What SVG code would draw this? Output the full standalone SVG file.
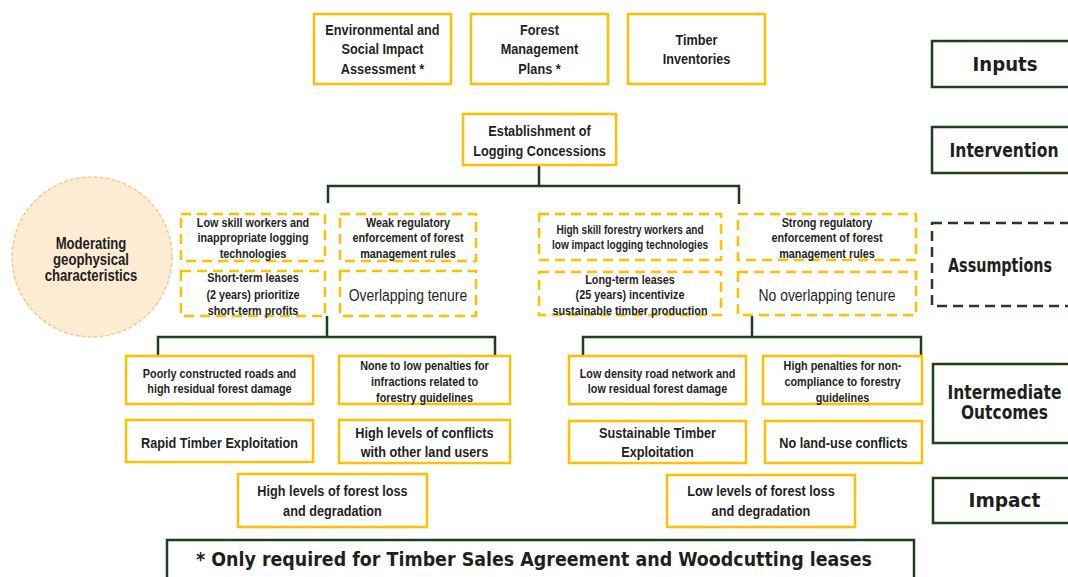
<svg xmlns="http://www.w3.org/2000/svg" width="1068" height="577" viewBox="0 0 1068 577">
<style>
.box{fill:#fff;stroke:#FFC000;stroke-width:2.5}
.dbox{fill:#fff;stroke:#FFC000;stroke-width:2.5;stroke-dasharray:10 6}
.lbl{fill:#fff;stroke:#1E3F1F;stroke-width:2.5}
.dlbl{fill:#fff;stroke:#1E3F1F;stroke-width:2.5;stroke-dasharray:10 6}
.con{fill:none;stroke:#1E3F1F;stroke-width:2.5}
text{fill:#1f1f1f;text-anchor:middle}
.t{font-family:"Liberation Sans",Arial,sans-serif;font-weight:bold;font-size:15.5px}
.s{font-family:"Liberation Sans",Arial,sans-serif;font-weight:bold;font-size:13.2px}
.s2{font-family:"Liberation Sans",Arial,sans-serif;font-weight:bold;font-size:12.3px}
.r{font-family:"Liberation Sans",Arial,sans-serif;font-weight:normal;font-size:17px}
.c{font-family:"Liberation Sans",Arial,sans-serif;font-weight:bold;font-size:16px}
.L{font-family:"DejaVu Sans",Verdana,sans-serif;font-weight:bold;font-size:19px}
.F{font-family:"DejaVu Sans",Verdana,sans-serif;font-weight:bold;font-size:20px}
</style>
<rect width="1068" height="577" fill="#fff"/>

<g id="connectors">
<path class="con" d="M539,165 V186 M328,203 V186 H739 V204"/>
<path class="con" d="M327,316 V337 M158,356 V337 H495 V356"/>
<path class="con" d="M752,316 V337 M583,356 V337 H921 V356"/>
</g>

<g id="label-inputs"><rect class="lbl" x="932" y="41" width="150" height="46"/><text class="L" x="1005" y="71" textLength="65" lengthAdjust="spacingAndGlyphs">Inputs</text></g>
<g id="label-intervention"><rect class="lbl" x="932" y="127" width="150" height="46"/><text class="L" x="1004" y="157" textLength="109" lengthAdjust="spacingAndGlyphs">Intervention</text></g>
<g id="label-assumptions"><rect class="dlbl" x="932" y="223" width="150" height="83"/><text class="L" x="1000" y="272" textLength="104" lengthAdjust="spacingAndGlyphs">Assumptions</text></g>
<g id="label-outcomes"><rect class="lbl" x="933" y="364" width="150" height="79"/><text class="L" x="1004.5" y="399" textLength="114" lengthAdjust="spacingAndGlyphs">Intermediate</text><text class="L" x="1004.5" y="419" textLength="87" lengthAdjust="spacingAndGlyphs">Outcomes</text></g>
<g id="label-impact"><rect class="lbl" x="933" y="478" width="150" height="45"/><text class="L" x="1004.5" y="507" textLength="72" lengthAdjust="spacingAndGlyphs">Impact</text></g>

<g id="in-esia"><rect class="box" x="314" y="14" width="137" height="70"/><text class="t" transform="translate(382.5,34.5) scale(.82,1)">Environmental and</text><text class="t" transform="translate(382.5,54) scale(.82,1)">Social Impact</text><text class="t" transform="translate(382.5,73.5) scale(.82,1)">Assessment *</text></g>
<g id="in-fmp"><rect class="box" x="471" y="14" width="137" height="70"/><text class="t" transform="translate(539.5,34.5) scale(.82,1)">Forest</text><text class="t" transform="translate(539.5,54) scale(.82,1)">Management</text><text class="t" transform="translate(539.5,73.5) scale(.82,1)">Plans *</text></g>
<g id="in-timber"><rect class="box" x="628" y="14" width="137" height="70"/><text class="t" transform="translate(696.5,44.5) scale(.82,1)">Timber</text><text class="t" transform="translate(696.5,63.5) scale(.82,1)">Inventories</text></g>

<g id="intervention"><rect class="box" x="463" y="114" width="153" height="51"/><text class="t" transform="translate(539.5,135.5) scale(.82,1)">Establishment of</text><text class="t" transform="translate(539.5,155.5) scale(.82,1)">Logging Concessions</text></g>

<g id="moderating"><circle cx="92" cy="257" r="80" fill="#FDEBD3" stroke="#F7C98A" stroke-width="1.5" stroke-dasharray="4 2"/><text class="c" transform="translate(91,248.5) scale(.82,1)">Moderating</text><text class="c" transform="translate(91,264.5) scale(.82,1)">geophysical</text><text class="c" transform="translate(91,280.5) scale(.82,1)">characteristics</text></g>

<g id="a-lowskill"><rect class="dbox" x="181" y="214" width="144" height="47"/><text class="s" transform="translate(253,226.5) scale(.82,1)">Low skill workers and</text><text class="s" transform="translate(253,242) scale(.82,1)">inappropriate logging</text><text class="s" transform="translate(253,257.5) scale(.82,1)">technologies</text></g>
<g id="a-weakreg"><rect class="dbox" x="340" y="214" width="136" height="47"/><text class="s" transform="translate(408,226.5) scale(.82,1)">Weak regulatory</text><text class="s" transform="translate(408,242) scale(.82,1)">enforcement of forest</text><text class="s" transform="translate(408,257.5) scale(.82,1)">management rules</text></g>
<g id="a-shortterm"><rect class="dbox" x="181" y="271" width="144" height="45"/><text class="s" transform="translate(253,281.5) scale(.82,1)">Short-term leases</text><text class="s" transform="translate(253,298.5) scale(.82,1)">(2 years) prioritize</text><text class="s" transform="translate(253,314.5) scale(.82,1)">short-term profits</text></g>
<g id="a-overlap"><rect class="dbox" x="340" y="271" width="136" height="45"/><text class="r" transform="translate(408,300.5) scale(.82,1)">Overlapping tenure</text></g>

<g id="a-highskill"><rect class="dbox" x="539" y="214" width="182" height="46"/><text class="s2" transform="translate(630,233.5) scale(.82,1)">High skill forestry workers and</text><text class="s2" transform="translate(630,248.5) scale(.82,1)">low impact logging technologies</text></g>
<g id="a-strongreg"><rect class="dbox" x="738" y="214" width="178" height="46"/><text class="s" transform="translate(827,227) scale(.82,1)">Strong regulatory</text><text class="s" transform="translate(827,241.5) scale(.82,1)">enforcement of forest</text><text class="s" transform="translate(827,257.5) scale(.82,1)">management rules</text></g>
<g id="a-longterm"><rect class="dbox" x="539" y="272" width="182" height="43"/><text class="s" transform="translate(630,283.5) scale(.82,1)">Long-term leases</text><text class="s" transform="translate(630,298.5) scale(.82,1)">(25 years) incentivize</text><text class="s" transform="translate(630,314.5) scale(.82,1)">sustainable timber production</text></g>
<g id="a-nooverlap"><rect class="dbox" x="738" y="272" width="178" height="43"/><text class="r" transform="translate(827,300.5) scale(.82,1)">No overlapping tenure</text></g>

<g id="o-roads"><rect class="box" x="126" y="356" width="187" height="48"/><text class="s" transform="translate(219.5,377.5) scale(.82,1)">Poorly constructed roads and</text><text class="s" transform="translate(219.5,392.5) scale(.82,1)">high residual forest damage</text></g>
<g id="o-penalties"><rect class="box" x="339" y="356" width="171" height="48"/><text class="s" transform="translate(424.5,369.5) scale(.82,1)">None to low penalties for</text><text class="s" transform="translate(424.5,385.5) scale(.82,1)">infractions related to</text><text class="s" transform="translate(424.5,401.5) scale(.82,1)">forestry guidelines</text></g>
<g id="o-rapid"><rect class="box" x="126" y="420" width="187" height="42"/><text class="t" transform="translate(219.5,447.5) scale(.82,1)">Rapid Timber Exploitation</text></g>
<g id="o-conflicts"><rect class="box" x="339" y="420" width="171" height="43"/><text class="t" transform="translate(424.5,437.5) scale(.82,1)">High levels of conflicts</text><text class="t" transform="translate(424.5,456.5) scale(.82,1)">with other land users</text></g>
<g id="i-highloss"><rect class="box" x="238" y="474" width="189" height="53"/><text class="t" transform="translate(332.5,496) scale(.82,1)">High levels of forest loss</text><text class="t" transform="translate(332.5,515.5) scale(.82,1)">and degradation</text></g>

<g id="o-lowdensity"><rect class="box" x="569" y="356" width="177" height="48"/><text class="s" transform="translate(657.5,378) scale(.82,1)">Low density road network and</text><text class="s" transform="translate(657.5,393) scale(.82,1)">low residual forest damage</text></g>
<g id="o-highpen"><rect class="box" x="763" y="356" width="159" height="48"/><text class="s" transform="translate(842.5,369.5) scale(.82,1)">High penalties for non-</text><text class="s" transform="translate(842.5,385.5) scale(.82,1)">compliance to forestry</text><text class="s" transform="translate(842.5,401.5) scale(.82,1)">guidelines</text></g>
<g id="o-sustain"><rect class="box" x="569" y="421" width="177" height="42"/><text class="t" transform="translate(657.5,437.5) scale(.82,1)">Sustainable Timber</text><text class="t" transform="translate(657.5,456.5) scale(.82,1)">Exploitation</text></g>
<g id="o-noconf"><rect class="box" x="765" y="421" width="157" height="42"/><text class="t" transform="translate(843.5,447.5) scale(.82,1)">No land-use conflicts</text></g>
<g id="i-lowloss"><rect class="box" x="667" y="475" width="188" height="52"/><text class="t" transform="translate(761,496) scale(.82,1)">Low levels of forest loss</text><text class="t" transform="translate(761,515.5) scale(.82,1)">and degradation</text></g>

<g id="footnote"><rect class="lbl" x="167" y="540" width="747" height="50"/><text class="F" x="534" y="566" textLength="676" lengthAdjust="spacingAndGlyphs">* Only required for Timber Sales Agreement and Woodcutting leases</text></g>
</svg>
